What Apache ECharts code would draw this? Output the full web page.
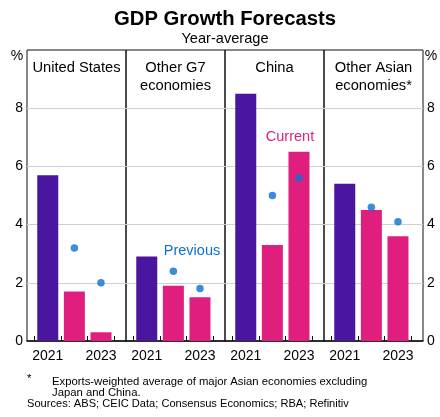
<!DOCTYPE html>
<html>
<head>
<meta charset="utf-8">
<script src="https://cdn.jsdelivr.net/npm/echarts@6/dist/echarts.min.js"></script>
<style>
html,body{margin:0;padding:0;background:#fff;}
#chart{width:440px;height:417px;}
</style>
</head>
<body>
<div id="chart"></div>
<script>
// ---- data ----
const years = [2021, 2022, 2023];
const yearLabels = [2021, 2023];
const panelNames = ['United States', 'Other G7\neconomies', 'China', 'Other Asian\neconomies*'];
const usCurrent = [5.7, 1.7, 0.3];
const usPrevious = [null, 3.2, 2.0];
const g7Current = [2.9, 1.9, 1.5];
const g7Previous = [null, 2.4, 1.8];
const chinaCurrent = [8.5, 3.3, 6.5];
const chinaPrevious = [null, 5.0, 5.6];
const asiaCurrent = [5.4, 4.5, 3.6];
const asiaPrevious = [null, 4.6, 4.1];

const currentSets = [usCurrent, g7Current, chinaCurrent, asiaCurrent];
const previousSets = [usPrevious, g7Previous, chinaPrevious, asiaPrevious];

// ---- style ----
const FONT = 'Liberation Sans, Arial, sans-serif';
const PURPLE = '#4a169f';
const PINK = '#df1e7e';
const BLUE = '#0a70d2';
const PLOT_L = 27, PLOT_T = 50, PANEL_W = 99, PLOT_H = 291;

const grids = [], xAxes = [], yAxes = [], series = [];
for (let i = 0; i < 4; i++) {
  grids.push({
    left: PLOT_L + i * PANEL_W, top: PLOT_T, width: PANEL_W, height: PLOT_H,
    show: true, borderColor: '#111', borderWidth: 1, backgroundColor: 'transparent'
  });
  xAxes.push({
    gridIndex: i, type: 'value', min: 2020.22, max: 2023.94,
    axisLine: { show: true, onZero: false, lineStyle: { color: '#111', width: 1.5 } },
    axisTick: { show: true, inside: true, length: 5, customValues: [2020.5, 2021.5, 2022.5, 2023.5], lineStyle: { color: '#111' } },
    axisLabel: { show: true, customValues: yearLabels, fontSize: 14, color: '#000', fontFamily: FONT, margin: 8, formatter: v => String(Math.round(v)) },
    splitLine: { show: false }
  });
  yAxes.push({
    gridIndex: i, type: 'value', min: 0, max: 10, interval: 2,
    position: i === 3 ? 'right' : 'left',
    axisLine: { show: false }, axisTick: { show: false },
    axisLabel: {
      show: i === 0 || i === 3, fontSize: 14, color: '#000', fontFamily: FONT, margin: 4,
      formatter: v => (v === 10 ? '' : String(v))
    },
    splitLine: { show: true, showMinLine: false, showMaxLine: false, lineStyle: { color: '#cfcfcf', width: 1 } }
  });
  series.push({
    type: 'bar', xAxisIndex: i, yAxisIndex: i, barWidth: 21,
    data: years.map((y, k) => ({ value: [y, currentSets[i][k]], itemStyle: { color: k === 0 ? PURPLE : PINK } })),
    silent: true, animation: false
  });
  series.push({
    type: 'scatter', xAxisIndex: i, yAxisIndex: i, symbolSize: 7.5,
    itemStyle: { color: BLUE },
    data: years.map((y, k) => previousSets[i][k] == null ? null : [y, previousSets[i][k]]).filter(d => d),
    silent: true, animation: false, z: 5
  });
}

const graphics = [
  { type: 'text', x: 225, y: 19, style: { text: 'GDP Growth Forecasts', font: 'bold 20.3px ' + FONT, fill: '#000', align: 'center', verticalAlign: 'middle' } },
  { type: 'text', x: 225, y: 39, style: { text: 'Year-average', font: '14.6px ' + FONT, fill: '#000', align: 'center', verticalAlign: 'middle' } },
  { type: 'text', x: 17, y: 49, style: { text: '%', font: '14px ' + FONT, fill: '#000', align: 'center', verticalAlign: 'top' } },
  { type: 'text', x: 431, y: 49, style: { text: '%', font: '14px ' + FONT, fill: '#000', align: 'center', verticalAlign: 'top' } },
  { type: 'text', x: 290, y: 137, style: { text: 'Current', font: '14.5px ' + FONT, fill: PINK, align: 'center', verticalAlign: 'middle' } },
  { type: 'text', x: 192, y: 251, style: { text: 'Previous', font: '14.5px ' + FONT, fill: BLUE, align: 'center', verticalAlign: 'middle' } },
  { type: 'text', x: 27, y: 373, style: { text: '*', font: '11.3px ' + FONT, fill: '#000', verticalAlign: 'top' } },
  { type: 'text', x: 52, y: 382, style: { text: 'Exports-weighted average of major Asian economies excluding', font: '11.3px ' + FONT, fill: '#000', verticalAlign: 'middle' } },
  { type: 'text', x: 52, y: 392.5, style: { text: 'Japan and China.', font: '11.3px ' + FONT, fill: '#000', verticalAlign: 'middle' } },
  { type: 'text', x: 27, y: 403.5, style: { text: 'Sources: ABS; CEIC Data; Consensus Economics; RBA; Refinitiv', font: '11.1px ' + FONT, fill: '#000', verticalAlign: 'middle' } }
];
panelNames.forEach((name, i) => {
  graphics.push({ type: 'text', x: PLOT_L + i * PANEL_W + PANEL_W / 2, y: 59,
    style: { text: name, font: '14.7px ' + FONT, lineHeight: 18, fill: '#000', align: 'center', verticalAlign: 'top' } });
});

const chart = echarts.init(document.getElementById('chart'), null, { renderer: 'canvas' });
chart.setOption({
  animation: false,
  backgroundColor: '#fff',
  grid: grids, xAxis: xAxes, yAxis: yAxes, series: series,
  graphic: graphics
});
</script>
</body>
</html>
